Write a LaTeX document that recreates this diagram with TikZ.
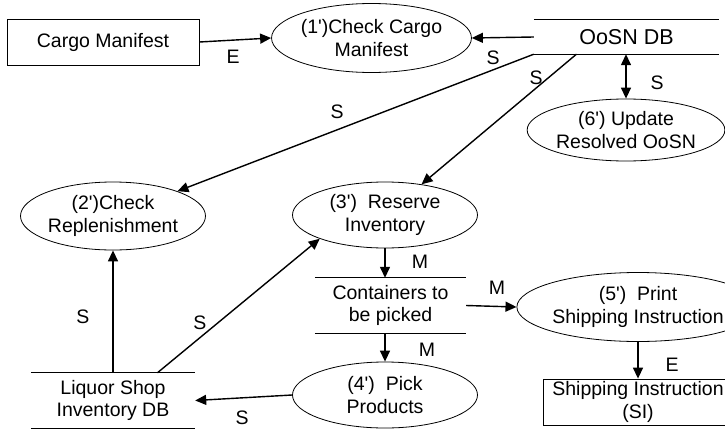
\documentclass[tikz,border=0pt]{standalone}
\usepackage{fontspec}
\setmainfont{Liberation Sans}
\usetikzlibrary{arrows.meta,shapes.geometric,calc}
\newcommand{\apos}{\textquotesingle}
\begin{document}
\begin{tikzpicture}[x=1pt,y=-1pt,
  every node/.style={font=\fontsize{19.5}{22.5}\selectfont},
  proc/.style={draw,ellipse,inner sep=0pt,align=center,line width=0.8pt},
  entity/.style={draw,rectangle,inner sep=0pt,align=center,line width=0.8pt},
  store/.style={rectangle,inner sep=0pt,align=center},
  storeline/.style={line width=0.8pt},
  flow/.style={line width=1.4pt,-{Triangle[length=11pt,width=10pt]}},
  biflow/.style={line width=1.4pt,{Triangle[length=11pt,width=10pt]}-{Triangle[length=11pt,width=10pt]}},
  lbl/.style={inner sep=0pt}]
\useasboundingbox (0,0) rectangle (725,431);

% external entities
\node[entity,minimum width=192pt,minimum height=46pt] (cargo) at (103,42) {Cargo Manifest};
\node[entity,minimum width=190pt,minimum height=46pt,align=center] (si) at (638,402) {Shipping Instruction\\(SI)};

% processes
\node[proc,minimum width=183pt,minimum height=69pt] (c1) at (371.5,38) {(1\apos)Check Cargo\\Manifest};
\node[proc,minimum width=185pt,minimum height=68pt] (c2) at (113,216) {(2\apos)Check\\Replenishment};
\node[proc,minimum width=185pt,minimum height=66pt] (c3) at (385,215) {(3\apos)~~Reserve\\Inventory};
\node[proc,minimum width=185pt,minimum height=66pt] (c4) at (385,395) {(4\apos)~~Pick\\Products};
\node[proc,minimum width=190pt,minimum height=69pt] (c5) at (638,307) {(5\apos)~~Print\\Shipping Instruction};
\node[proc,minimum width=185pt,minimum height=62pt] (c6) at (626,130) {(6\apos) Update\\Resolved OoSN};

% data stores
\node[store,minimum width=185pt,minimum height=34pt,font=\fontsize{21.5}{24}\selectfont] (oosn) at (626.5,37) {OoSN DB};
\node[store,minimum width=164pt,minimum height=55pt] (liq) at (113,400.5) {Liquor Shop\\Inventory DB};
\node[store,minimum width=151pt,minimum height=55pt] (cont) at (390.5,305.5) {Containers to\\be picked};
\foreach \s in {oosn,liq,cont}{
  \draw[storeline] (\s.north west) -- (\s.north east);
  \draw[storeline] (\s.south west) -- (\s.south east);
}

% data flows
\draw[flow] (cargo.east) -- (c1.west);
\draw[flow] (oosn.west) -- (c1.east);
\draw[flow] (oosn.south west) -- (c2);
\draw[flow] ($(oosn.south west)!0.23!(oosn.south east)$) -- (c3);
\draw[biflow] (c6.north |- oosn.south) -- (c6.north);
\draw[flow] (liq.north) -- (c2.south);
\draw[flow] ($(liq.north west)!0.77!(liq.north east)$) -- (c3.200);
\draw[flow] (c3.south) -- (c3.south |- cont.north);
\draw[flow] (c4.north |- cont.south) -- (c4.north);
\draw[flow] (cont.east) -- (c5.west);
\draw[flow] (c4.west) -- (liq.east);
\draw[flow] (c5.south) -- (si.north);

% flow labels
\node[lbl] (l1) at (233,57) {E};
\node[lbl] (l2) at (493,58) {S};
\node[lbl] (l3) at (337,112) {S};
\node[lbl] (l4) at (536,78) {S};
\node[lbl] (l5) at (657,83) {S};
\node[lbl] (l6) at (83,317) {S};
\node[lbl] (l7) at (200,323) {S};
\node[lbl] (l8) at (242,418) {S};
\node[lbl] (l9) at (420,262) {M};
\node[lbl] (l10) at (497,288) {M};
\node[lbl] (l11) at (427,350) {M};
\node[lbl] (l12) at (672,365) {E};
\end{tikzpicture}
\end{document}
